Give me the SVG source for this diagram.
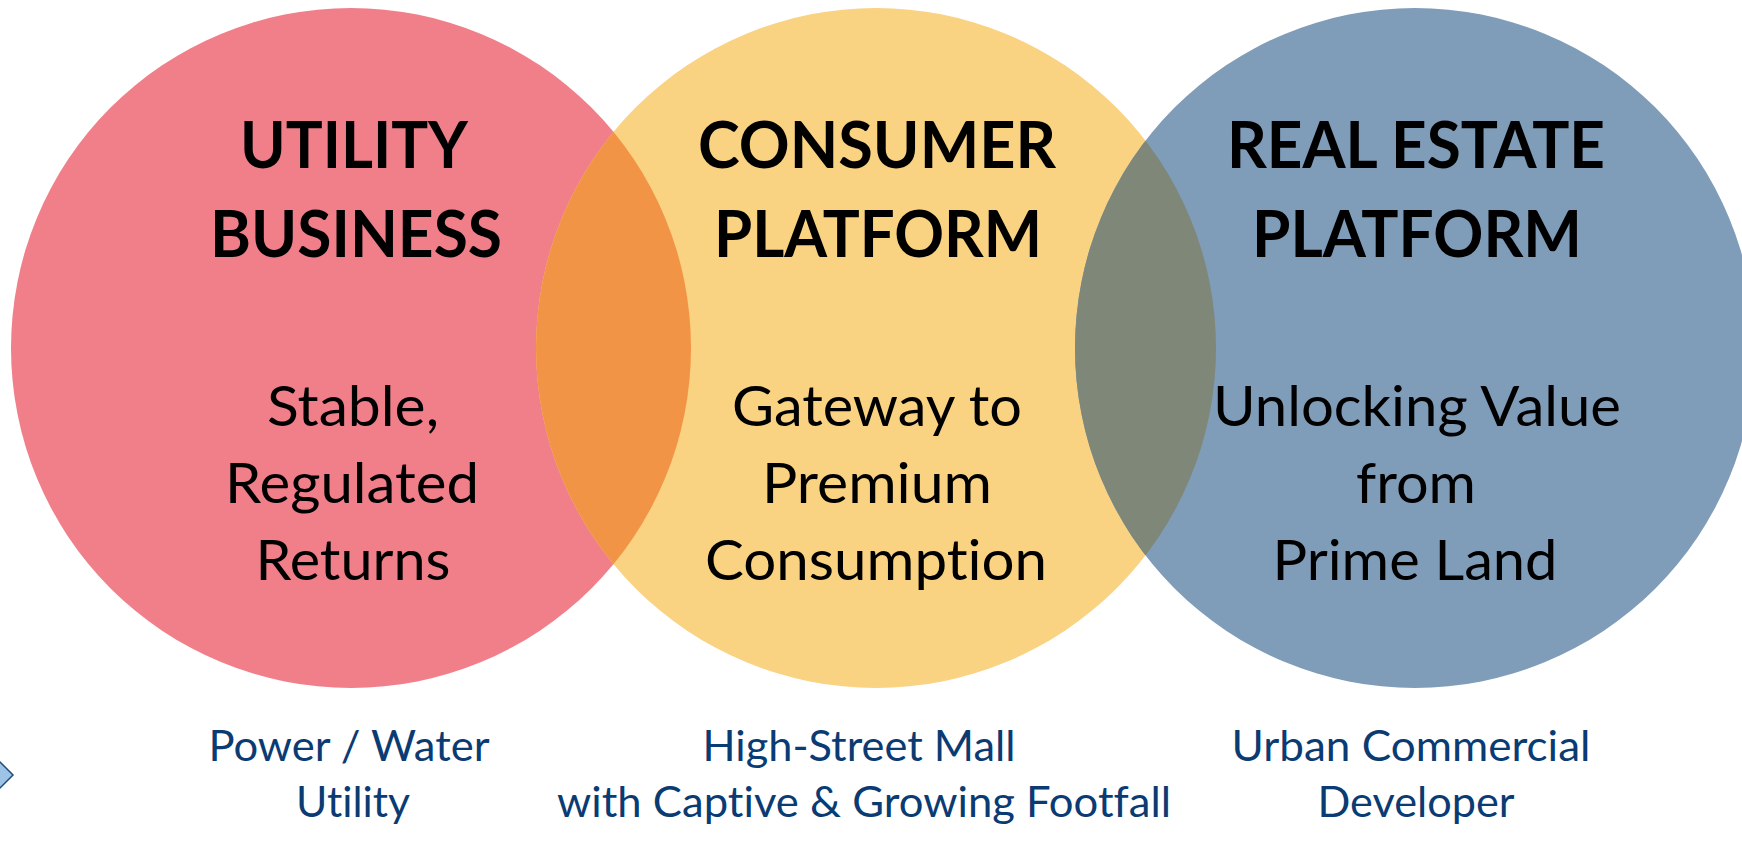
<svg xmlns="http://www.w3.org/2000/svg" width="1742" height="858" viewBox="0 0 1742 858">
  <style>
    text { font-variant-ligatures: none; text-anchor: middle; }
    .title { font-family: Lato, "Open Sans", "Liberation Sans", sans-serif; font-weight: 700; font-size: 65px; fill: #000000; }
    .body { font-family: Lato, "Open Sans", "Liberation Sans", sans-serif; font-weight: 400; font-size: 56px; fill: #000000; }
    .sub { font-family: Lato, "Open Sans", "Liberation Sans", sans-serif; font-weight: 400; font-size: 42px; fill: #0B3B73; }
  </style>
  <defs>
    <clipPath id="clipRed"><circle cx="351" cy="348" r="340"/></clipPath>
    <clipPath id="clipYellow"><circle cx="876" cy="348" r="340"/></clipPath>
  </defs>
  <rect x="0" y="0" width="1742" height="858" fill="#FFFFFF"/>

  <g id="utility">
    <circle cx="351" cy="348" r="340" fill="#F07F8A"/>
  </g>
  <g id="consumer">
    <circle cx="876" cy="348" r="340" fill="#F9D282"/>
  </g>
  <g id="realestate">
    <circle cx="1415" cy="348" r="340" fill="#7F9CB9"/>
  </g>
  <g id="overlaps">
    <circle cx="876" cy="348" r="340" fill="#F29446" clip-path="url(#clipRed)"/>
    <circle cx="1415" cy="348" r="340" fill="#7F8779" clip-path="url(#clipYellow)"/>
  </g>

  <g id="utility-text">
    <text class="title" x="354" y="168" textLength="228" lengthAdjust="spacingAndGlyphs">UTILITY</text>
    <text class="title" x="356" y="257" textLength="292" lengthAdjust="spacingAndGlyphs">BUSINESS</text>
    <text class="body" x="353" y="426" textLength="172" lengthAdjust="spacingAndGlyphs">Stable,</text>
    <text class="body" x="352" y="503" textLength="254" lengthAdjust="spacingAndGlyphs">Regulated</text>
    <text class="body" x="353" y="580" textLength="195" lengthAdjust="spacingAndGlyphs">Returns</text>
  </g>
  <g id="consumer-text">
    <text class="title" x="877" y="168" textLength="358" lengthAdjust="spacingAndGlyphs">CONSUMER</text>
    <text class="title" x="878" y="257" textLength="328" lengthAdjust="spacingAndGlyphs">PLATFORM</text>
    <text class="body" x="877" y="426" textLength="290" lengthAdjust="spacingAndGlyphs">Gateway to</text>
    <text class="body" x="877" y="503" textLength="230" lengthAdjust="spacingAndGlyphs">Premium</text>
    <text class="body" x="876" y="580" textLength="342" lengthAdjust="spacingAndGlyphs">Consumption</text>
  </g>
  <g id="realestate-text">
    <text class="title" x="1416" y="168" textLength="378" lengthAdjust="spacingAndGlyphs">REAL ESTATE</text>
    <text class="title" x="1417" y="257" textLength="330" lengthAdjust="spacingAndGlyphs">PLATFORM</text>
    <text class="body" x="1417" y="426" textLength="408" lengthAdjust="spacingAndGlyphs">Unlocking Value</text>
    <text class="body" x="1416" y="503" textLength="120" lengthAdjust="spacingAndGlyphs">from</text>
    <text class="body" x="1415" y="580" textLength="285" lengthAdjust="spacingAndGlyphs">Prime Land</text>
  </g>

  <g id="captions">
    <text class="sub" x="349" y="761" textLength="281" lengthAdjust="spacingAndGlyphs">Power / Water</text>
    <text class="sub" x="353" y="817" textLength="114" lengthAdjust="spacingAndGlyphs">Utility</text>
    <text class="sub" x="859" y="761" textLength="313" lengthAdjust="spacingAndGlyphs">High-Street Mall</text>
    <text class="sub" x="864" y="817" textLength="614" lengthAdjust="spacingAndGlyphs">with Captive &amp; Growing Footfall</text>
    <text class="sub" x="1411" y="761" textLength="359" lengthAdjust="spacingAndGlyphs">Urban Commercial</text>
    <text class="sub" x="1416" y="817" textLength="197" lengthAdjust="spacingAndGlyphs">Developer</text>
  </g>

  <g id="marker-diamond">
    <polygon points="-2,760 13,775 -2,790 -17,775" fill="#9DC3E6" stroke="#1F4E79" stroke-width="1.5"/>
  </g>
  <g id="connectors"></g>
</svg>
